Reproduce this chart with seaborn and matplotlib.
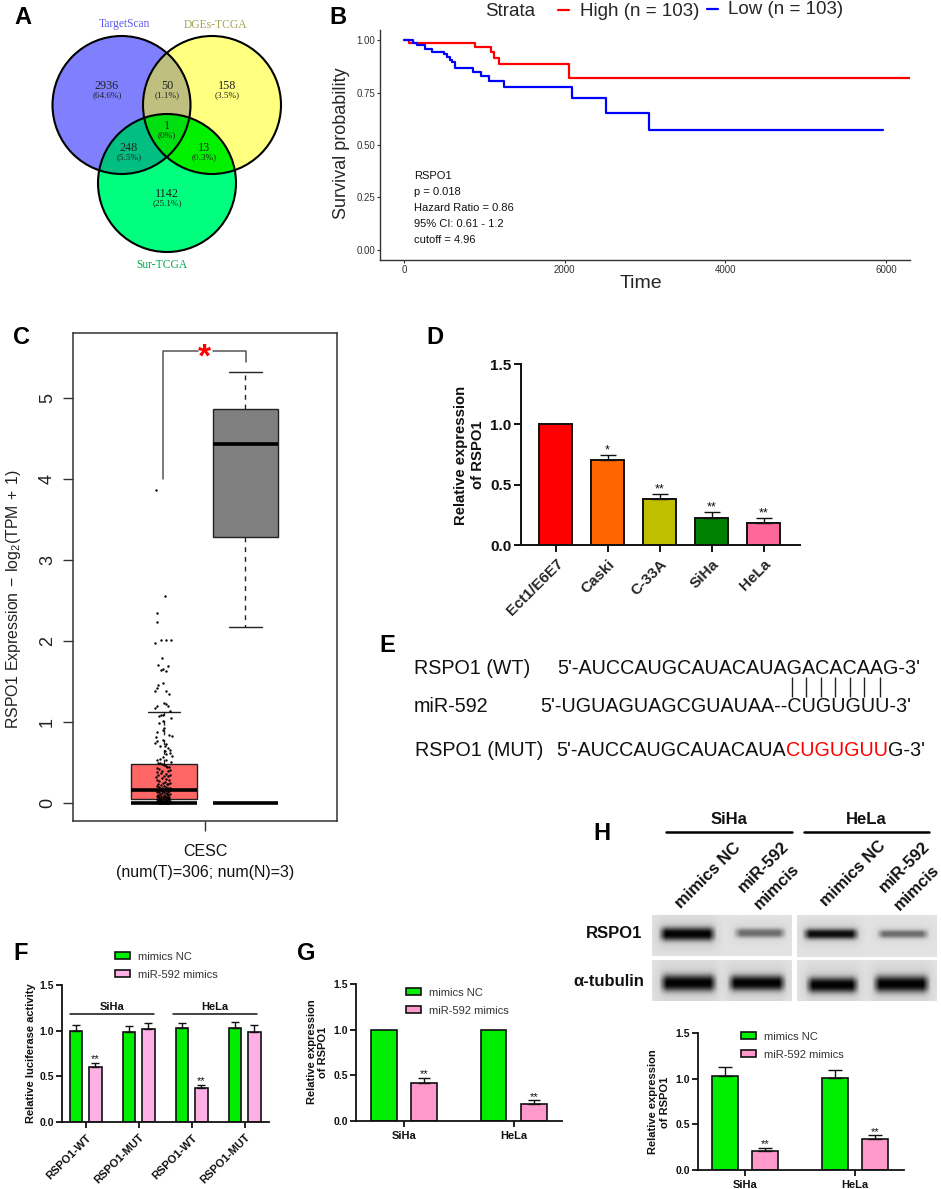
import numpy as np
import pandas as pd
import seaborn as sns
import matplotlib.pyplot as plt
from matplotlib.patches import Circle, Polygon
from matplotlib.patches import Patch

W, H = 941, 1189

# panel A
venn_sets = ['TargetScan', 'DGEs-TCGA', 'Sur-TCGA']
venn_counts = ['2936', '50', '158', '1', '248', '13', '1142']
venn_pcts = ['(64.6%)', '(1.1%)', '(3.5%)', '(0%)', '(5.5%)', '(0.3%)', '(25.1%)']

# panel B, step curves
high_time = [0, 60, 880, 1088, 1118, 1187, 2052, 6300]
high_surv = [1.0, 0.99, 0.97, 0.945, 0.917, 0.888, 0.82, 0.82]
low_time = [0, 110, 165, 262, 356, 495, 534, 569, 603, 633, 865, 955, 1063, 1251, 2097, 2522, 3047, 5960]
low_surv = [1.0, 0.99, 0.98, 0.958, 0.947, 0.935, 0.92, 0.907, 0.895, 0.87, 0.85, 0.83, 0.806, 0.778,
            0.727, 0.653, 0.57, 0.57]
b_notes = ['RSPO1', 'p = 0.018', 'Hazard Ratio = 0.86', '95% CI: 0.61 - 1.2', 'cutoff = 4.96']

# panel C, whisker / quartile / median values
tumor_box = [0.0, 0.05, 0.16, 0.48, 1.12]
normal_box = [2.17, 3.29, 4.43, 4.87, 5.32]
strip_dx = [-0.10, 0.012, -0.08, -0.09, -0.11, -0.04, 0.02, 0.086, -0.02, -0.07, 0.045, -0.04, -0.01, 0.02,
            -0.01, -0.07, -0.08, -0.11, 0.03, 0.065, 0.0, 0.03, -0.09, 0.05, -0.105, 0.08, -0.04, -0.01,
            -0.065, 0.086, -0.01, -0.057, 0.0, -0.09, -0.01, 0.065, 0.094, -0.098, -0.01, -0.08, -0.105,
            0.03, -0.05, 0.01, 0.05, 0.07, 0.01, 0.07, 0.03, 0.094, -0.01, -0.05, -0.09, 0.03, 0.086,
            -0.07, -0.05, -0.03, 0.0, 0.02, 0.04, 0.06, -0.08, -0.06, 0.08, -0.02, 0.05, -0.09, -0.04,
            0.02, 0.07, -0.07, 0.0, 0.045, -0.1, -0.03, 0.03, 0.06, -0.085, -0.055, 0.015, 0.075, -0.015,
            0.04, -0.07, 0.055, -0.04, 0.0, -0.09, 0.03, -0.06, 0.07, -0.02, 0.05, -0.045, 0.01, -0.075,
            0.03, -0.03, 0.06, -0.06, 0.0, 0.045, -0.085, -0.02, 0.02, 0.07, -0.05, 0.035, -0.07, 0.0,
            0.055, -0.035, 0.015, -0.08, 0.04, -0.055, 0.065, -0.015, 0.03, -0.07, 0.05, -0.04, 0.0,
            -0.06, 0.02, 0.06, -0.08, -0.025, 0.04, -0.05, 0.01, 0.07, -0.07, 0.03, -0.03, 0.05, -0.06,
            0.0, 0.02, -0.04, 0.06, -0.08, 0.04, -0.015, 0.03, -0.055, 0.07, -0.03, 0.01, 0.05, -0.07,
            -0.045, 0.025, 0.06, -0.02, 0.04, -0.065, 0.0, 0.03, -0.04, 0.055, -0.075, 0.015, -0.025]
strip_y = [3.87, 2.55, 2.35, 2.24, 1.98, 2.01, 2.01, 2.01, 1.79, 1.70, 1.69, 1.64, 1.65, 1.63, 1.48, 1.46,
           1.42, 1.38, 1.38, 1.34, 1.23, 1.22, 1.20, 1.20, 1.17, 1.13, 1.09, 1.09, 1.08, 1.05, 1.01, 0.99,
           0.93, 0.88, 0.90, 0.84, 0.83, 0.82, 0.78, 0.76, 0.74, 0.73, 0.71, 0.70, 0.68, 0.66, 0.64, 0.62,
           0.60, 0.58, 0.57, 0.54, 0.53, 0.53, 0.51, 0.50, 0.49, 0.48, 0.47, 0.46, 0.45, 0.44, 0.43, 0.42,
           0.41, 0.40, 0.39, 0.38, 0.37, 0.36, 0.35, 0.34, 0.33, 0.33, 0.32, 0.31, 0.30, 0.29, 0.28, 0.27,
           0.26, 0.25, 0.25, 0.24, 0.23, 0.23, 0.22, 0.21, 0.21, 0.20, 0.20, 0.19, 0.19, 0.18, 0.17, 0.17,
           0.16, 0.16, 0.15, 0.15, 0.14, 0.14, 0.13, 0.13, 0.12, 0.12, 0.11, 0.11, 0.11, 0.10, 0.10, 0.10,
           0.09, 0.09, 0.09, 0.08, 0.08, 0.08, 0.07, 0.07, 0.07, 0.06, 0.06, 0.06, 0.05, 0.05, 0.05, 0.05,
           0.04, 0.04, 0.04, 0.04, 0.03, 0.03, 0.03, 0.03, 0.03, 0.02, 0.02, 0.02, 0.02, 0.02, 0.02, 0.01,
           0.01, 0.01, 0.01, 0.01, 0.01, 0.01, 0.01, 0.0, 0.0, 0.0, 0.0, 0.0, 0.0, 0.0, 0.0, 0.0, 0.0, 0.0]

# panel D
d_cells = ['Ect1/E6E7', 'Caski', 'C-33A', 'SiHa', 'HeLa']
d_vals = [1.0, 0.705, 0.385, 0.225, 0.185]
d_errs = [0.0, 0.04, 0.04, 0.05, 0.04]
d_stars = ['', '*', '**', '**', '**']
d_colors = ['#ff0000', '#ff6600', '#c0c000', '#008000', '#ff6699']

# panel F
f_groups = ['RSPO1-WT', 'RSPO1-MUT', 'RSPO1-WT ', 'RSPO1-MUT ']
f_nc = [1.0, 0.98, 1.03, 1.03]
f_nc_err = [0.06, 0.07, 0.05, 0.07]
f_mir = [0.6, 1.02, 0.37, 0.99]
f_mir_err = [0.05, 0.06, 0.04, 0.07]
f_stars = ['**', '', '**', '']

# panels G and H
cell_lines = ['SiHa', 'HeLa']
g_nc = [1.0, 1.0]
g_nc_err = [0.0, 0.0]
g_mir = [0.42, 0.19]
g_mir_err = [0.05, 0.035]
h_nc = [1.03, 1.01]
h_nc_err = [0.10, 0.09]
h_mir = [0.21, 0.34]
h_mir_err = [0.03, 0.04]

sns.set_style('white')
plt.rcParams['font.family'] = ['Liberation Sans', 'DejaVu Sans']
plt.rcParams['mathtext.fontset'] = 'custom'
plt.rcParams['mathtext.rm'] = 'Liberation Sans'
plt.rcParams['mathtext.default'] = 'regular'

fig = plt.figure(figsize=(W / 100, H / 100), dpi=100)
BLK = '#111111'


def px_axes(x0, y0, x1, y1):
    return fig.add_axes([x0 / W, 1 - y1 / H, (x1 - x0) / W, (y1 - y0) / H])


def prism_style(ax, tick=7.5, lw=1.3):
    sns.despine(ax=ax)
    for s in ['left', 'bottom']:
        ax.spines[s].set_linewidth(lw)
        ax.spines[s].set_color(BLK)
    ax.tick_params(axis='both', direction='out', bottom=True, left=True, length=4, width=lw,
                   color=BLK, labelsize=tick, pad=2)
    ax.tick_params(axis='x', pad=3.5)
    ax.set_yticks([0, 0.5, 1.0, 1.5], ['0.0', '0.5', '1.0', '1.5'], fontweight='bold', color=BLK)
    ax.set_ylim(0, 1.5)


def err_and_stars(ax, xs, vals, errs, stars, capsize, size=8):
    for x, v, e, s in zip(xs, vals, errs, stars):
        if e > 0:
            ax.errorbar(x, v, yerr=[[0], [e]], fmt='none', ecolor=BLK, elinewidth=1, capsize=capsize, capthick=1)
        if s:
            ax.annotate(s, (x, v + e), xytext=(0, -1), textcoords='offset points', ha='center', va='bottom',
                        fontsize=size, color=BLK)


def grouped(ax, groups, nc, nc_err, mir, mir_err, stars, pink, capsize):
    df = pd.DataFrame({'group': list(groups) * 2, 'val': nc + mir,
                       'arm': ['mimics NC'] * len(groups) + ['miR-592 mimics'] * len(groups)})
    sns.barplot(data=df, x='group', y='val', hue='arm', palette=['#00ee00', pink], width=0.736, gap=0.36,
                saturation=1, edgecolor=BLK, linewidth=1.2, legend=False, ax=ax)
    bars = sorted(ax.patches, key=lambda p: p.get_x())
    xs = [b.get_x() + b.get_width() / 2 for b in bars]
    vals = [v for pair in zip(nc, mir) for v in pair]
    errs = [v for pair in zip(nc_err, mir_err) for v in pair]
    st = [v for pair in zip([''] * len(groups), stars) for v in pair]
    err_and_stars(ax, xs, vals, errs, st, capsize)
    ax.set_xlabel('')


def arm_legend(x, y, pink):
    hs = [Patch(fc='#00ee00', ec=BLK, lw=1.2), Patch(fc=pink, ec=BLK, lw=1.2)]
    fig.legend(hs, ['mimics NC', 'miR-592 mimics'], loc='upper left', bbox_to_anchor=(x / W, 1 - y / H),
               frameon=False, fontsize=8, handlelength=1.35, handleheight=0.55, handletextpad=0.75,
               labelspacing=0.72, borderpad=0, borderaxespad=0, labelcolor='#333333')


# overlay in pixel coordinates for the non-plot bits
ov = fig.add_axes([0, 0, 1, 1], zorder=20)
ov.set_xlim(0, W)
ov.set_ylim(H, 0)
ov.axis('off')

for letter, x, y in [('A', 14, 18), ('B', 329, 18), ('C', 13, 337), ('D', 426, 337), ('E', 379, 645),
                     ('F', 13, 954), ('G', 297, 954), ('H', 593, 834)]:
    ov.text(x, y, letter, fontsize=17, fontweight='bold', color='black', ha='left', va='center')

# A: venn
centres = [(121.5, 105), (212, 105), (167, 183)]
R = 69


def circle_pts(c, n=720):
    t = np.linspace(0, 2 * np.pi, n, endpoint=False)
    return np.c_[c[0] + R * np.cos(t), c[1] + R * np.sin(t)]


def lens(a, b):
    pa, pb = circle_pts(a), circle_pts(b)
    pts = np.r_[pa[np.hypot(*(pa - b).T) <= R], pb[np.hypot(*(pb - a).T) <= R]]
    m = pts.mean(axis=0)
    return pts[np.argsort(np.arctan2(pts[:, 1] - m[1], pts[:, 0] - m[0]))]


for c, col in zip(centres, ['#8080ff', '#ffff80', '#00ff7f']):
    ov.add_patch(Circle(c, R, fc=col, ec='none'))
ov.add_patch(Polygon(lens(centres[0], centres[1]), fc='#bfbf80', ec='none'))
ov.add_patch(Polygon(lens(centres[0], centres[2]), fc='#00bf80', ec='none'))
ov.add_patch(Polygon(lens(centres[1], centres[2]), fc='#00f000', ec='none'))
tri = Polygon(lens(centres[0], centres[1]), fc='#00df10', ec='none')
ov.add_patch(tri)
tri.set_clip_path(Circle(centres[2], R, transform=ov.transData))
for c in centres:
    ov.add_patch(Circle(c, R, fc='none', ec='black', lw=1.5))

serif = ['Liberation Serif', 'DejaVu Serif']
for t, (x, y), col in zip(venn_sets, [(124, 24), (215, 25), (162, 265)], ['#5a5af0', '#a3a352', '#00a850']):
    ov.text(x, y, t, family=serif, fontsize=8.3, color=col, ha='center', va='center')
venn_xy = [(107, 86), (167, 86), (227, 86), (167, 126), (129, 148), (204, 148), (167, 194)]
for n, p, (x, y) in zip(venn_counts, venn_pcts, venn_xy):
    ov.text(x, y, n, family=serif, fontsize=8.7, color='#222222', ha='center', va='center')
    ov.text(x, y + 9, p, family=serif, fontsize=6.6, color='#222222', ha='center', va='center')

# B: survival
axb = px_axes(380, 30, 910, 260)
sns.lineplot(x=high_time, y=high_surv, drawstyle='steps-post', color='#ff0000', lw=1.6, errorbar=None, ax=axb)
sns.lineplot(x=low_time, y=low_surv, drawstyle='steps-post', color='#0000ff', lw=1.6, errorbar=None, ax=axb)
axb.set_xlim(-297, 6300)
axb.set_ylim(-0.05, 1.05)
sns.despine(ax=axb)
for s in ['left', 'bottom']:
    axb.spines[s].set_linewidth(1)
    axb.spines[s].set_color('#333333')
axb.set_xticks([0, 2000, 4000, 6000])
axb.set_yticks([0, 0.25, 0.5, 0.75, 1.0], ['0.00', '0.25', '0.50', '0.75', '1.00'])
axb.tick_params(bottom=True, left=True, length=2.5, width=0.8, labelsize=7, color='#333333', labelcolor='#333333', pad=1)
ov.text(342, 143, 'Survival probability', rotation=90, fontsize=13, ha='center', va='center')
ov.text(641, 284, 'Time', fontsize=14, ha='center', va='center')
for i, t in enumerate(b_notes):
    ov.text(414, 176 + i * 16, t, fontsize=8, ha='left', va='center', color='#111111')
ov.text(485, 11, 'Strata', fontsize=13.5, ha='left', va='center')
ov.plot([558, 569], [10, 10], color='#ff0000', lw=1.6)
ov.text(580, 12, 'High (n = 103)', fontsize=13.5, ha='left', va='center')
ov.plot([707, 718], [9, 9], color='#0000ff', lw=1.6)
ov.text(728, 10, 'Low (n = 103)', fontsize=13.5, ha='left', va='center')

# C: boxes with the tumour points on top
axc = px_axes(72.7, 332.7, 336.7, 821)
box_df = pd.DataFrame({'tissue': ['T'] * 5 + ['N'] * 5, 'expr': tumor_box + normal_box})
sns.boxplot(data=box_df, x='tissue', y='expr', hue='tissue', palette=['#ff6666', '#808080'], saturation=1,
            width=0.8, whis=(0, 100), linecolor='#222222', linewidth=1, showfliers=False, capwidths=0.4,
            whiskerprops={'linestyle': (0, (3.5, 3.5))}, medianprops={'linewidth': 2.6, 'color': 'black'},
            legend=False, ax=axc)
axc.hlines([0, 0], [-0.4, 0.6], [0.4, 1.4], color='black', lw=2.6, zorder=5)
n_pts = min(len(strip_dx), len(strip_y))
sns.scatterplot(x=strip_dx[:n_pts], y=strip_y[:n_pts], color='black', s=3, linewidth=0, zorder=6, ax=axc)
axc.set_xlim(-1.12, 2.12)
axc.set_ylim(-0.222, 5.806)
axc.set_xticks([0.5], [''])
axc.set_yticks(range(6), [str(i) for i in range(6)], rotation=90, va='center')
axc.set_xlabel('')
axc.set_ylabel('')
for s in axc.spines.values():
    s.set_linewidth(1.1)
    s.set_color('#333333')
    s.set_visible(True)
axc.tick_params(bottom=True, left=True, length=7, width=1, labelsize=13, color='#333333', labelcolor='#222222', pad=5)
ov.text(14, 599, r'RSPO1 Expression$\,-\,$log$_2$(TPM$\,+\,$1)', rotation=90, fontsize=11.4,
        ha='center', va='center', color='#222222')
ov.text(205, 852, 'CESC', fontsize=11.5, ha='center', va='center', color='#111111')
ov.text(205, 872, '(num(T)=306; num(N)=3)', fontsize=11.5, ha='center', va='center', color='#111111')
ov.plot([163.3, 163.3, 198], [479, 350.7, 350.7], color='#555555', lw=1.1)
ov.plot([213, 245.7, 245.7], [350.7, 350.7, 361.7], color='#555555', lw=1.1)
ov.text(204.5, 358, '*', fontsize=24, fontweight='bold', color='#ff0000', ha='center', va='center')

# D
axd = px_axes(521, 364, 800, 545)
sns.barplot(x=d_cells, y=d_vals, hue=d_cells, palette=d_colors, width=0.64, saturation=1, edgecolor=BLK,
            linewidth=1.4, legend=False, ax=axd)
prism_style(axd, tick=11, lw=1.4)
err_and_stars(axd, range(5), d_vals, d_errs, d_stars, 6, size=9)
axd.set_xlim(-0.667, 4.7)
axd.tick_params(length=5)
axd.set_xticks(range(5), d_cells, rotation=45, ha='right', rotation_mode='anchor', fontweight='bold', fontsize=11)
axd.set_ylabel('')
ov.text(469.5, 455, 'Relative expression\nof RSPO1', rotation=90, fontsize=10.7, fontweight='bold',
        ha='center', va='center', linespacing=1.3, color=BLK)

# E: sequences, one text run after another
seq_size = 14.2


def runs(x, y, parts):
    fig.canvas.draw()
    rend = fig.canvas.get_renderer()
    for txt, col in parts:
        t = ov.text(x, y, txt, fontsize=seq_size, color=col, ha='left', va='center')
        x = ov.transData.inverted().transform(t.get_window_extent(rend).corners()[2])[0]


dark = '#111111'
ov.text(414, 668, 'RSPO1 (WT)', fontsize=seq_size, color=dark, va='center')
ov.text(414, 707, 'miR-592', fontsize=seq_size, color=dark, va='center')
ov.text(415, 750, 'RSPO1 (MUT)', fontsize=seq_size, color=dark, va='center')
runs(557, 668, [("5'-AUCCAUGCAUACAUAGACACAAG-3'", dark)])
runs(540.5, 707, [("5'-UGUAGUAGCGUAUAA--CUGUGUU-3'", dark)])
runs(556, 751, [("5'-AUCCAUGCAUACAUA", dark), ('CUGUGUU', '#ff0000'), ("G-3'", dark)])
ov.vlines([792, 806, 821, 835, 850, 864, 880], 677, 697, color='#222222', lw=1)

# F
axf = px_axes(62.5, 985, 269, 1122)
grouped(axf, f_groups, f_nc, f_nc_err, f_mir, f_mir_err, f_stars, '#ffb0e6', 3)
prism_style(axf)
axf.set_xlim(-0.438, 3.46)
axf.set_xticks(range(4), [g.strip() for g in f_groups], rotation=45, ha='right', rotation_mode='anchor',
               fontweight='bold', fontsize=8, color=BLK)
axf.set_ylabel('')
arm_legend(115, 951.5, '#ffb0e6')
ov.text(31, 1053, 'Relative luciferase activity', rotation=90, fontsize=8, fontweight='bold', ha='center', va='center', color=BLK)
for txt, x0, x1 in [('SiHa', 70, 153.6), ('HeLa', 173, 257)]:
    ov.plot([x0, x1], [1014, 1014], color=BLK, lw=1.1)
    ov.text((x0 + x1) / 2, 1007, txt, fontsize=8, fontweight='bold', ha='center', va='center', color=BLK)

# G
axg = px_axes(356, 984, 562, 1121)
grouped(axg, cell_lines, g_nc, g_nc_err, g_mir, g_mir_err, ['**', '**'], '#ff99cc', 4.5)
prism_style(axg)
axg.set_xlim(-0.436, 1.44)
axg.set_xticks(range(2), cell_lines, fontweight='bold', fontsize=8, color=BLK)
axg.set_ylabel('')
arm_legend(406, 987.5, '#ff99cc')
ov.text(317.5, 1052, 'Relative expression\nof RSPO1', rotation=90, fontsize=8, fontweight='bold',
        ha='center', va='center', linespacing=1.2, color=BLK)

# H: blot
blot_panels = [(652, 915, 792, 956), (797, 915, 937, 957), (652, 960, 792, 1001), (797, 960, 937, 1001)]
blot_bands = [[(658, 717, 934, 6.5, 1.0), (733, 787, 933, 4.5, 0.5)],
              [(802, 860, 934, 5, 0.95), (876, 930, 934, 4, 0.5)],
              [(659, 718, 983, 8, 1.0), (727, 787, 983, 7.5, 1.0)],
              [(805, 860, 985, 7.5, 1.0), (872, 931, 984, 8, 1.0)]]
for (x0, y0, x1, y1), bands in zip(blot_panels, blot_bands):
    yy, xx = np.mgrid[y0:y1, x0:x1] + 0.5
    ink = np.zeros_like(xx)
    halo = np.zeros_like(xx)
    for bx0, bx1, yc, th, amp in bands:
        edge = np.clip((xx - bx0) / 8, 0, 1) * np.clip((bx1 - xx) / 8, 0, 1)
        ink = np.maximum(ink, amp * edge * np.exp(-np.abs((yy - yc) / th) ** 2.5))
        wide = np.clip((xx - bx0 + 8) / 14, 0, 1) * np.clip((bx1 - xx + 8) / 14, 0, 1)
        halo = np.maximum(halo, amp * wide * np.exp(-((yy - yc) / (th * 2.4)) ** 2))
    img = (0.89 - 0.10 * halo) * (1 - 0.99 * ink)
    ov.imshow(img, extent=[x0, x1, y1, y0], cmap='gray', vmin=0, vmax=1, aspect='auto', interpolation='bilinear')
ov.set_xlim(0, W)
ov.set_ylim(H, 0)

for txt, x0, x1 in [('SiHa', 666, 792), ('HeLa', 804, 929)]:
    ov.plot([x0, x1], [832, 832], color='black', lw=1.8)
    ov.text((x0 + x1) / 2, 819, txt, fontsize=12, fontweight='bold', ha='center', va='center', color=BLK)
for txt, x, y in [('mimics NC', 708, 876), ('miR-592', 763, 867), ('mimcis', 777, 887),
                  ('mimics NC', 853.5, 873.5), ('miR-592', 904, 867), ('mimcis', 917, 888)]:
    ov.text(x, y, txt, rotation=45, fontsize=12, fontweight='bold', ha='center', va='center',
            rotation_mode='anchor', color=BLK)
ov.text(642, 934, 'RSPO1', fontsize=12, fontweight='bold', ha='right', va='center', color=BLK)
ov.text(644, 981, 'α-tubulin', fontsize=12, fontweight='bold', ha='right', va='center', color=BLK)

axh = px_axes(698, 1033, 904, 1170)
grouped(axh, cell_lines, h_nc, h_nc_err, h_mir, h_mir_err, ['**', '**'], '#ff99cc', 4.7)
prism_style(axh)
axh.set_xlim(-0.427, 1.445)
axh.set_xticks(range(2), cell_lines, fontweight='bold', fontsize=8, color=BLK)
axh.set_ylabel('')
arm_legend(741, 1031.5, '#ff99cc')
ov.text(659, 1102, 'Relative expression\nof RSPO1', rotation=90, fontsize=8, fontweight='bold',
        ha='center', va='center', linespacing=1.2, color=BLK)

fig.savefig('out.png', dpi=100)
